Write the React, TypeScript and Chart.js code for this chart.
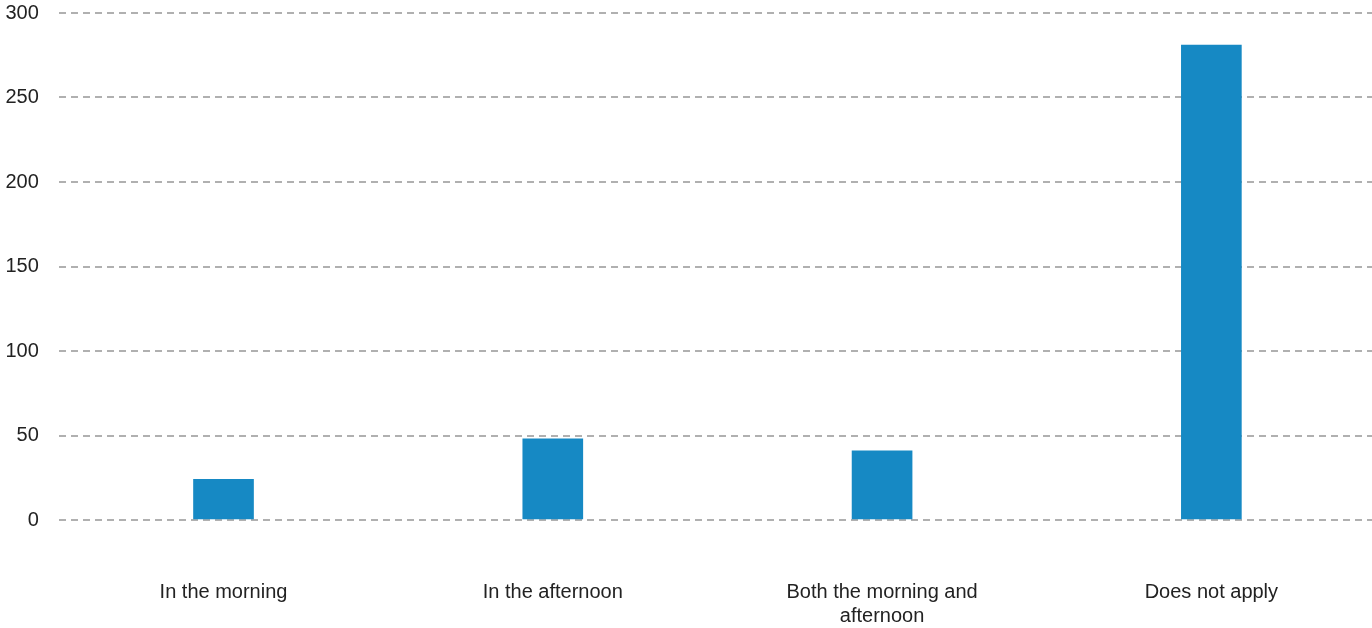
import React, { useEffect, useRef } from "react";
import { Chart, registerables } from "chart.js";

Chart.register(...registerables);

const categories: (string | string[])[] = [
  "In the morning",
  "In the afternoon",
  ["Both the morning and", "afternoon"],
  "Does not apply",
];
const counts = [24, 48, 41, 281];
const yTicks = [0, 50, 100, 150, 200, 250, 300];

const FONT = "'Liberation Sans', Arial, sans-serif";

export default function App() {
  const ref = useRef<HTMLCanvasElement | null>(null);

  useEffect(() => {
    document.body.style.margin = "0";
    const canvas = ref.current;
    if (!canvas) return;
    const chart = new Chart(canvas, {
      type: "bar",
      data: {
        labels: categories,
        datasets: [
          {
            data: counts,
            backgroundColor: "#1689c4",
            barThickness: 60,
            borderWidth: 0,
          },
        ],
      },
      options: {
        animation: false,
        responsive: false,
        maintainAspectRatio: false,
        layout: { padding: { left: 5.5, top: 13, right: 0, bottom: 0 } },
        plugins: { legend: { display: false }, tooltip: { enabled: false } },
        scales: {
          x: {
            grid: {
              display: true,
              color: "transparent",
              drawTicks: true,
              tickLength: 60,
              tickColor: "transparent",
            },
            border: { display: false },
            ticks: {
              padding: 0,
              color: "#222",
              font: { family: FONT, size: 20, lineHeight: 1.2 },
              maxRotation: 0,
              autoSkip: false,
            },
          },
          y: {
            min: 0,
            max: 300,
            afterBuildTicks: (scale: any) => {
              scale.ticks = yTicks.map((v) => ({ value: v }));
            },
            grid: {
              color: "#b0b0b0",
              lineWidth: 2,
              drawTicks: true,
              tickLength: 20,
              tickColor: "transparent",
            },
            border: { display: false, dash: [7, 5] },
            ticks: {
              padding: 0,
              color: "#222",
              font: { family: FONT, size: 20 },
            },
          },
        },
      },
    });
    return () => chart.destroy();
  }, []);

  return (
    <div style={{ width: 1372, height: 628, position: "relative", overflow: "hidden" }}>
      <canvas ref={ref} width={1376} height={628} style={{ display: "block" }} />
    </div>
  );
}
